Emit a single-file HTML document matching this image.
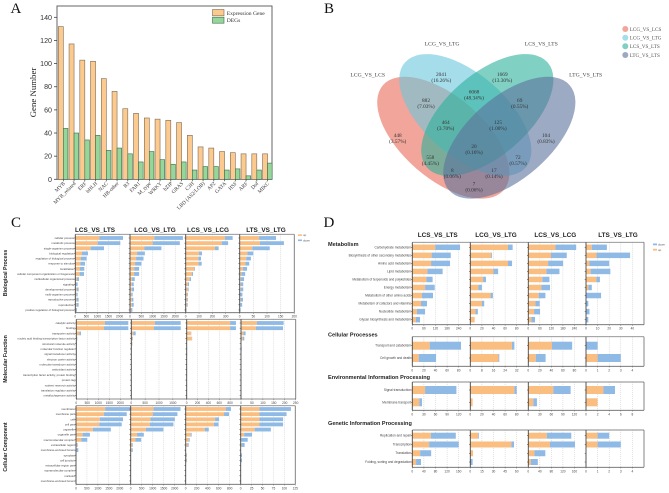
<!DOCTYPE html>
<html lang="en">
<head>
<meta charset="utf-8">
<title>Gene expression figure</title>
<style>
html,body{margin:0;padding:0;background:#fff;}
svg{display:block;}
.letter{font-family:"Liberation Serif",serif;font-size:15px;fill:#111;}
.vl{font-family:"Liberation Serif",serif;font-size:5.7px;fill:#444;text-anchor:middle;}
.vn{font-family:"Liberation Serif",serif;font-size:5.3px;fill:#333;text-anchor:middle;}
</style>
</head>
<body>
<svg id="fig" xmlns="http://www.w3.org/2000/svg" width="669" height="493" viewBox="0 0 669 493">
  <rect width="669" height="493" fill="#fff"/>
  <text class="letter" x="10.5" y="13">A</text>
  <text class="letter" x="324" y="13">B</text>
  <text class="letter" x="11" y="227">C</text>
  <text class="letter" x="323.5" y="227">D</text>

  <g id="panelA"></g>

  <g id="venn">
    <ellipse cx="443.3" cy="137.7" rx="80" ry="41" transform="rotate(41 443.3 137.7)" fill="#E64B35" fill-opacity="0.5"/>
    <ellipse cx="465.3" cy="115" rx="80" ry="41" transform="rotate(41 465.3 115)" fill="rgb(107,198,220)" fill-opacity="0.6"/>
    <ellipse cx="487.3" cy="115" rx="80" ry="41" transform="rotate(-41 487.3 115)" fill="rgb(43,177,155)" fill-opacity="0.6"/>
    <ellipse cx="509.3" cy="137.7" rx="80" ry="41" transform="rotate(-41 509.3 137.7)" fill="rgb(92,113,157)" fill-opacity="0.6"/>
    <text class="vl" x="367.7" y="76.3">LCG_VS_LCS</text>
    <text class="vl" x="442" y="45.7">LCG_VS_LTG</text>
    <text class="vl" x="541.3" y="45.7">LCS_VS_LTS</text>
    <text class="vl" x="585.7" y="76.3">LTG_VS_LTS</text>
    <g>
      <text class="vn" x="441.3" y="76">2041</text><text class="vn" x="441.3" y="82">(16.26%)</text>
      <text class="vn" x="502.3" y="76">1669</text><text class="vn" x="502.3" y="82">(13.30%)</text>
      <text class="vn" x="474" y="93.5">6068</text><text class="vn" x="474" y="99.5">(48.34%)</text>
      <text class="vn" x="426" y="102">882</text><text class="vn" x="426" y="108">(7.03%)</text>
      <text class="vn" x="519.7" y="102">69</text><text class="vn" x="519.7" y="108">(0.55%)</text>
      <text class="vn" x="445.7" y="124">464</text><text class="vn" x="445.7" y="130">(3.70%)</text>
      <text class="vn" x="498" y="124">125</text><text class="vn" x="498" y="130">(1.00%)</text>
      <text class="vn" x="397.7" y="137">448</text><text class="vn" x="397.7" y="143">(3.57%)</text>
      <text class="vn" x="546" y="137">104</text><text class="vn" x="546" y="143">(0.83%)</text>
      <text class="vn" x="474" y="148">20</text><text class="vn" x="474" y="154">(0.16%)</text>
      <text class="vn" x="430.3" y="159">558</text><text class="vn" x="430.3" y="165">(4.45%)</text>
      <text class="vn" x="518" y="159">72</text><text class="vn" x="518" y="165">(0.57%)</text>
      <text class="vn" x="452.3" y="172">8</text><text class="vn" x="452.3" y="178">(0.06%)</text>
      <text class="vn" x="494" y="172">17</text><text class="vn" x="494" y="178">(0.14%)</text>
      <text class="vn" x="474" y="185.5">7</text><text class="vn" x="474" y="191.5">(0.06%)</text>
    </g>
    <g>
      <circle cx="625.3" cy="29" r="3" fill="#E64B35" fill-opacity="0.5"/>
      <circle cx="625.3" cy="37.7" r="3" fill="#4DBBD5" fill-opacity="0.5"/>
      <circle cx="625.3" cy="46.3" r="3" fill="#00A087" fill-opacity="0.5"/>
      <circle cx="625.3" cy="55" r="3" fill="#3C5488" fill-opacity="0.5"/>
      <text x="629.7" y="30.8" font-family="Liberation Serif, serif" font-size="5.2" fill="#555">LCG_VS_LCS</text>
      <text x="629.7" y="39.5" font-family="Liberation Serif, serif" font-size="5.2" fill="#555">LCG_VS_LTG</text>
      <text x="629.7" y="48.1" font-family="Liberation Serif, serif" font-size="5.2" fill="#555">LCS_VS_LTS</text>
      <text x="629.7" y="56.8" font-family="Liberation Serif, serif" font-size="5.2" fill="#555">LTG_VS_LTS</text>
    </g>
  </g>

  <g id="panelC"></g>
  <g id="panelD"></g>
</svg>

<script>
/* ---------- Panel A data ---------- */
var aCategories = ["MYB","MYB_related","ERF","bHLH","NAC","HB-other","B3","FAR1","M_type","WRKY","bZIP","GRAS","C3H","LBD (AS2/LOB)","AP2","GATA","HSF","ARF","Dof","MIKC"];
var aExpression = [132,117,103,102,87,76,61,57,53,52,51,49,38,28,27,24,23,22,22,22];
var aDegs = [44,40,34,38,25,27,22,15,24,17,13,15,8,11,11,8,9,3,8,14];
var aTicks = [0,20,40,60,80,100,120,140];

/* ---------- Panel C data ---------- */
var comparisonsC = ["LCS_VS_LTS","LCG_VS_LTG","LCS_VS_LCG","LTS_VS_LTG"];
var bpCategories = ["cellular process","metabolic process","single-organism process","biological regulation","regulation of biological process","response to stimulus","localization","cellular component organization or biogenesis","multicellular organismal process","signaling","developmental process","multi-organism process","reproductive process","reproduction","positive regulation of biological process"];
var mfCategories = ["catalytic activity","binding","transporter activity","nucleic acid binding transcription factor activity","structural molecule activity","molecular function regulator","signal transducer activity","electron carrier activity","molecular transducer activity","antioxidant activity","transcription factor activity, protein binding","protein tag","nutrient reservoir activity","translation regulator activity","metallochaperone activity"];
var ccCategories = ["membrane","membrane part","cell","cell part","organelle","organelle part","macromolecular complex","extracellular region","membrane-enclosed lumen","symplast","cell junction","extracellular region part","supramolecular complex","nucleoid","membrane-enclosed lumen"];

var bpUp1 = [1084,1010,693,300,256,226,211,196,75,30,75,45,60,60,30];
var bpDown1 = [1070,1023,602,272,256,211,196,196,90,75,75,60,90,90,45];
var bpUp2 = [1075,1000,640,313,269,224,194,179,90,75,75,60,75,75,45];
var bpDown2 = [1261,1200,748,343,328,283,209,224,119,89,104,59,74,89,59];
var bpUp3 = [295,270,220,100,95,97,65,45,30,15,15,12,12,10,5];
var bpDown3 = [57,48,27,22,20,23,5,10,10,10,7,5,5,5,2];
var bpUp4 = [71,74,46,28,24,21,12,6,4,4,4,1,4,2,1];
var bpDown4 = [62,88,64,22,17,14,15,14,12,9,9,9,8,7,2];

var mfUp1 = [1303,1258,136,30,20,10,8,5,5,4,3,2,1,1,1];
var mfDown1 = [1061,1106,76,15,8,5,5,2,2,2,2,1,1,1,0];
var mfUp2 = [855,820,72,48,30,8,5,3,3,2,2,1,1,1,0];
var mfDown2 = [929,964,85,12,8,3,2,1,1,1,1,1,0,0,0];
var mfUp3 = [800,800,78,95,0,6,6,3,2,2,1,1,0,0,0];
var mfDown3 = [107,107,6,5,0,2,2,1,1,1,1,0,0,0,0];
var mfUp4 = [73,68,11,8,0,1,0,0,0,0,0,0,0,0,0];
var mfDown4 = [122,124,10,7,0,2,0,0,0,0,0,0,0,0,0];

var ccUp1 = [1333,1272,1090,1060,772,303,242,45,30,5,5,3,3,2,2];
var ccDown1 = [1152,1046,1060,1030,818,333,273,30,76,3,3,2,2,1,1];
var ccUp2 = [1040,1009,902,872,688,290,214,61,45,8,8,3,3,2,2];
var ccDown2 = [1223,1116,1101,1070,795,306,260,31,47,8,8,3,2,1,1];
var ccUp3 = [727,697,535,511,348,90,54,30,3,18,18,0,0,0,0];
var ccDown3 = [96,90,72,84,72,18,18,24,2,6,6,0,0,0,0];
var ccUp4 = [43,43,43,43,32,8,1,2,0,1,1,0,0,0,0];
var ccDown4 = [72,62,54,54,37,18,15,7,0,2,2,0,0,0,0];

var ticks2000 = [0,500,1000,1500,2000];
var ticks1500 = [0,500,1000,1500];
var ticks300 = [0,100,200,300];
var ticks800 = [0,200,400,600,800];
var ticks200 = [0,50,100,150,200];
var ticks250 = [0,50,100,150,200,250];
var ticks125 = [0,25,50,75,100,125];

/* ---------- Panel D data ---------- */
var comparisonsD = ["LCS_VS_LTS","LCG_VS_LTG","LCS_VS_LCG","LTS_VS_LTG"];
var metabolismCategories = ["Carbohydrate metabolism","Biosynthesis of other secondary metabolites","Amino acid metabolism","Lipid metabolism","Metabolism of terpenoids and polyketides","Energy metabolism","Metabolism of other amino acids","Metabolism of cofactors and vitamins","Nucleotide metabolism","Glycan biosynthesis and metabolism"];
var cellularCategories = ["Transport and catabolism","Cell growth and death"];
var environmentalCategories = ["Signal transduction","Membrane transport"];
var geneticCategories = ["Replication and repair","Transcription","Translation","Folding, sorting and degradation"];

var metUp1 = [119,100,97,78,73,66,50,45,24,19];
var metDown1 = [128,99,98,79,32,50,57,31,42,21];
var metUp2 = [65,36,65,40,22,14,35,20,9,7.5];
var metDown2 = [8,1.5,7,8,5,6,4,4,4,0];
var metUp3 = [141,118,103,94,73,68,54,37,30,16];
var metDown3 = [108,82,78,68,37,45,35,22,31,19];
var metUp4 = [5,9,3,4,9,2,0,0,0,0];
var metDown4 = [13,29,17,17,3,3,13,2,3,2];

var celUp1 = [30,11];
var celDown1 = [54,30];
var celUp2 = [28.7,19.4];
var celDown2 = [1.7,0.6];
var celUp3 = [41,13];
var celDown3 = [35,17];
var celUp4 = [0,1];
var celDown4 = [1,2];

var envUp1 = [33,18];
var envDown1 = [81,7];
var envUp2 = [76,4];
var envDown2 = [4,0];
var envUp3 = [65,13];
var envDown3 = [45,9.5];
var envUp4 = [3,2];
var envDown4 = [2,0];

var genUp1 = [64,58,27,13];
var genDown1 = [86,102,38,17];
var genUp2 = [10,53,3.5,0];
var genDown2 = [1,3.5,0,3];
var genUp3 = [64,75,21,9];
var genDown3 = [85,87,38,24];
var genUp4 = [1,1,0,0];
var genDown4 = [1,2,0,0];

var ticksD240 = [0,60,120,180,240];
var ticksD80 = [0,20,40,60,80];
var ticksD50 = [0,10,20,30,40];
var ticksD32 = [0,8,16,24,32];
var ticksD5 = [0,1,2,3,4];
var ticksD120 = [0,30,60,90,120];
var ticksD10 = [0,2,4,6,8];
var ticksD160 = [0,40,80,120,160];
var ticksD60 = [0,15,30,45,60];

var SANS = '"Liberation Sans", sans-serif';
var SERIF = '"Liberation Serif", serif';
var NS = 'http://www.w3.org/2000/svg';

function add(parent, tag, attrs, txt) {
  var el = document.createElementNS(NS, tag);
  for (var k in attrs) el.setAttribute(k, attrs[k]);
  if (txt !== undefined) el.textContent = txt;
  parent.appendChild(el);
  return el;
}

/* ---------- Panel A ---------- */
(function () {
  var g = document.getElementById('panelA');
  var left = 57, right = 272, top = 6, base = 179.3;
  function y(v) { return base - v * 1.157; }
  function cx(i) { return 63.3 + i * 10.75; }

  var frame = add(g, 'rect', {x: left, y: top, width: right - left, height: base - top, fill: 'none', stroke: '#555', 'stroke-width': 0.9});
  
  

  aTicks.forEach(function (t) {
    var tick = add(g, 'line', {x1: left - 3, x2: left, y1: y(t), y2: y(t), stroke: '#444', 'stroke-width': 0.8});
    
    
    var lab = add(g, 'text', {x: left - 5, y: y(t) + 2.5, 'text-anchor': 'end', 'font-family': SANS, 'font-size': 7.1, fill: '#333'}, t);
    
    
  });

  var title = add(g, 'text', {x: 0, y: 0, transform: 'translate(36 92.5) rotate(-90)', 'text-anchor': 'middle', 'font-family': SERIF, 'font-size': 8.8, fill: '#222'}, 'Gene Number');
  
  

  aCategories.forEach(function (c, i) {
    var b1 = add(g, 'rect', {x: cx(i) - 5, y: y(aExpression[i]), width: 5, height: base - y(aExpression[i]), fill: '#fcc98e', stroke: '#7c6a55', 'stroke-width': 0.6});
    
    
    var b2 = add(g, 'rect', {x: cx(i), y: y(aDegs[i]), width: 4.6, height: base - y(aDegs[i]), fill: '#96d69b', stroke: '#3d6b48', 'stroke-width': 0.6});
    
    
    var tick = add(g, 'line', {x1: cx(i), x2: cx(i), y1: base, y2: base + 2, stroke: '#444', 'stroke-width': 0.7});
    
    
    var lab = add(g, 'text', {x: 0, y: 0, transform: 'translate(' + (cx(i) + 2) + ' ' + (base + 4.5) + ') rotate(-45)', 'text-anchor': 'end', 'font-family': SERIF, 'font-size': 5.3, fill: '#333'}, c);
    
    
  });

  var s1 = add(g, 'rect', {x: 212.5, y: 9.5, width: 11.5, height: 6.3, fill: '#fcc98e', stroke: '#7c6a55', 'stroke-width': 0.6});
  
  
  var s2 = add(g, 'rect', {x: 212.5, y: 17.2, width: 11.5, height: 6, fill: '#96d69b', stroke: '#3d6b48', 'stroke-width': 0.6});
  
  
  var l1 = add(g, 'text', {x: 226.7, y: 14.8, 'font-family': SERIF, 'font-size': 5.6, fill: '#333'}, 'Expression Gene');
  
  
  var l2 = add(g, 'text', {x: 226.7, y: 22.2, 'font-family': SERIF, 'font-size': 5.6, fill: '#333'}, 'DEGs');
  
  
})();

/* ---------- Small-multiple stacked bars ---------- */
function drawFacet(g, o) {
  function x(v) { return o.x0 + v / o.max * (o.x1 - o.x0); }
  function y(i) { return o.yFirst + i * o.yStep; }

  o.ticks.forEach(function (t) {
    if (t !== 0) {
      var grid = add(g, 'line', {x1: x(t), x2: x(t), y1: o.top, y2: o.bottom, stroke: '#c4c4c4', 'stroke-width': 0.5, 'stroke-dasharray': '1 1'});
      
      
    }
    var tick = add(g, 'line', {x1: x(t), x2: x(t), y1: o.bottom, y2: o.bottom + 1.2, stroke: '#444', 'stroke-width': 0.4});
    
    
    var lab = add(g, 'text', {x: x(t), y: o.bottom + 5, 'text-anchor': 'middle', 'font-family': SANS, 'font-size': 3.2, fill: '#444'}, t);
    
    
  });

  o.up.forEach(function (u, i) {
    var d = o.down[i];
    if (u > 0) {
      var r1 = add(g, 'rect', {x: x(0), y: y(i) - o.barH / 2, width: x(u) - x(0), height: o.barH, fill: '#f9be80'});
      
      
    }
    if (d > 0) {
      var r2 = add(g, 'rect', {x: x(u), y: y(i) - o.barH / 2, width: x(u + d) - x(u), height: o.barH, fill: '#8fbae6'});
      
      
    }
    var t = add(g, 'line', {x1: o.x0 - 1.3, x2: o.x0, y1: y(i), y2: y(i), stroke: '#333', 'stroke-width': 0.5});
    
    
    if (o.labels) {
      var lab = add(g, 'text', {x: o.x0 - 1.3, y: y(i) + 1, 'text-anchor': 'end', 'font-family': SANS, 'font-size': o.labelSize, fill: '#444'}, o.labels[i]);
      
      
    }
  });

  var topLine = add(g, 'line', {x1: o.x0, x2: o.x1, y1: o.top, y2: o.top, stroke: '#8a8a8a', 'stroke-width': 0.9});
  
  
  var botLine = add(g, 'line', {x1: o.x0, x2: o.x1, y1: o.bottom, y2: o.bottom, stroke: '#666', 'stroke-width': 0.8});
  
  
  var leftLine = add(g, 'line', {x1: o.x0, x2: o.x0, y1: o.top, y2: o.bottom, stroke: '#444', 'stroke-width': 0.9});
  
  
  if (o.last) {
    var rightLine = add(g, 'line', {x1: o.x1, x2: o.x1, y1: o.top, y2: o.bottom, stroke: '#777', 'stroke-width': 0.9});
    
    
  }
}

/* ---------- Panel C ---------- */
(function () {
  var g = document.getElementById('panelC');
  var rows = [
    {edges: [75.3, 130, 185.7, 239.7, 294.3], top: 234.3, bottom: 312.7, yFirst: 238, yStep: 5.14, cats: bpCategories,
     up: [bpUp1, bpUp2, bpUp3, bpUp4], down: [bpDown1, bpDown2, bpDown3, bpDown4],
     ticks: [ticks2000, ticks2000, ticks300, ticks200], max: [2470, 2460, 405, 200]},
    {edges: [76.3, 131.3, 186.7, 241, 295.7], top: 319.3, bottom: 399, yFirst: 323, yStep: 5.19, cats: mfCategories,
     up: [mfUp1, mfUp2, mfUp3, mfUp4], down: [mfDown1, mfDown2, mfDown3, mfDown4],
     ticks: [ticks2000, ticks1500, ticks800, ticks250], max: [2500, 2000, 1000, 250]},
    {edges: [76, 130.7, 185.7, 240.7, 295.3], top: 405.7, bottom: 484.3, yFirst: 409, yStep: 5.14, cats: ccCategories,
     up: [ccUp1, ccUp2, ccUp3, ccUp4], down: [ccDown1, ccDown2, ccDown3, ccDown4],
     ticks: [ticks2000, ticks2000, ticks800, ticks125], max: [2500, 2500, 1000, 125]}
  ];
  rows.forEach(function (r) {
    for (var c = 0; c < 4; c++) {
      drawFacet(g, {x0: r.edges[c], x1: r.edges[c + 1], top: r.top, bottom: r.bottom, yFirst: r.yFirst, yStep: r.yStep,
        barH: 3.8, up: r.up[c], down: r.down[c], ticks: r.ticks[c], max: r.max[c],
        labels: c === 0 ? r.cats : null, labelSize: 2.8, last: c === 3});
    }
  });
  var centers = [95, 155, 208, 266];
  comparisonsC.forEach(function (name, i) {
    var t = add(g, 'text', {x: centers[i], y: 232, 'text-anchor': 'middle', 'font-family': SANS, 'font-size': 6.4, 'font-weight': 'bold', fill: '#222'}, name);
    
    
  });
  var rowTitles = ['Biological Process', 'Molecular Function', 'Cellular Component'];
  var rowTitleY = [273, 359, 447];
  rowTitles.forEach(function (name, i) {
    var t = add(g, 'text', {x: 0, y: 0, transform: 'translate(7 ' + rowTitleY[i] + ') rotate(-90)', 'text-anchor': 'middle', 'font-family': SANS, 'font-size': 5.2, 'font-weight': 'bold', fill: '#222'}, name);
    
    
  });
  var a = add(g, 'rect', {x: 298, y: 234.3, width: 4, height: 1.6, fill: '#f9be80'});
  
  
  var b = add(g, 'rect', {x: 298, y: 239.5, width: 4, height: 1.6, fill: '#8fbae6'});
  
  
  var c = add(g, 'text', {x: 303, y: 236.2, 'font-family': SANS, 'font-size': 2.9, fill: '#555'}, 'up');
  
  
  var d = add(g, 'text', {x: 303, y: 241.4, 'font-family': SANS, 'font-size': 2.9, fill: '#555'}, 'down');
  
  
})();

/* ---------- Panel D ---------- */
(function () {
  var g = document.getElementById('panelD');
  var edges = [412.3, 470.3, 528.3, 586, 644];
  var rows = [
    {head: 'Metabolism', headY: 245.8, top: 242.3, bottom: 324.7, yFirst: 247.3, yStep: 8.04, barH: 5.5, cats: metabolismCategories,
     up: [metUp1, metUp2, metUp3, metUp4], down: [metDown1, metDown2, metDown3, metDown4],
     ticks: [ticksD240, ticksD80, ticksD240, ticksD50], max: [300, 100, 300, 50]},
    {head: 'Cellular Processes', headY: 336.7, top: 336.7, bottom: 366.3, yFirst: 345.7, yStep: 12.3, barH: 8, cats: cellularCategories,
     up: [celUp1, celUp2, celUp3, celUp4], down: [celDown1, celDown2, celDown3, celDown4],
     ticks: [ticksD80, ticksD32, ticksD80, ticksD5], max: [100, 40, 100, 5]},
    {head: 'Environmental Information Processing', headY: 379, top: 382, bottom: 410.3, yFirst: 390, yStep: 12.3, barH: 8, cats: environmentalCategories,
     up: [envUp1, envUp2, envUp3, envUp4], down: [envDown1, envDown2, envDown3, envDown4],
     ticks: [ticksD120, ticksD80, ticksD120, ticksD10], max: [150, 100, 150, 10]},
    {head: 'Genetic Information Processing', headY: 425, top: 430, bottom: 467.3, yFirst: 435.7, yStep: 8.77, barH: 6, cats: geneticCategories,
     up: [genUp1, genUp2, genUp3, genUp4], down: [genDown1, genDown2, genDown3, genDown4],
     ticks: [ticksD160, ticksD60, ticksD160, ticksD5], max: [200, 75, 200, 5]}
  ];
  rows.forEach(function (r) {
    var h = add(g, 'text', {x: 328, y: r.headY, 'font-family': SANS, 'font-size': 5.55, 'font-weight': 'bold', fill: '#222'}, r.head);
    
    
    for (var c = 0; c < 4; c++) {
      drawFacet(g, {x0: edges[c], x1: edges[c + 1], top: r.top, bottom: r.bottom, yFirst: r.yFirst, yStep: r.yStep,
        barH: r.barH, up: r.up[c], down: r.down[c], ticks: r.ticks[c], max: r.max[c],
        labels: c === 0 ? r.cats : null, labelSize: 3.2, last: c === 3});
    }
  });
  var centers = [437.7, 496, 555.3, 618];
  comparisonsD.forEach(function (name, i) {
    var t = add(g, 'text', {x: centers[i], y: 237.2, 'text-anchor': 'middle', 'font-family': SANS, 'font-size': 6.4, 'font-weight': 'bold', fill: '#222'}, name);
    
    
  });
  var a = add(g, 'rect', {x: 653, y: 243.5, width: 4, height: 1.8, fill: '#8fbae6'});
  
  
  var b = add(g, 'rect', {x: 653, y: 248.8, width: 4, height: 1.8, fill: '#f9be80'});
  
  
  var c = add(g, 'text', {x: 658, y: 245.5, 'font-family': SANS, 'font-size': 2.9, fill: '#555'}, 'down');
  
  
  var d = add(g, 'text', {x: 658, y: 250.8, 'font-family': SANS, 'font-size': 2.9, fill: '#555'}, 'up');
  
  
})();
</script>
</body>
</html>
